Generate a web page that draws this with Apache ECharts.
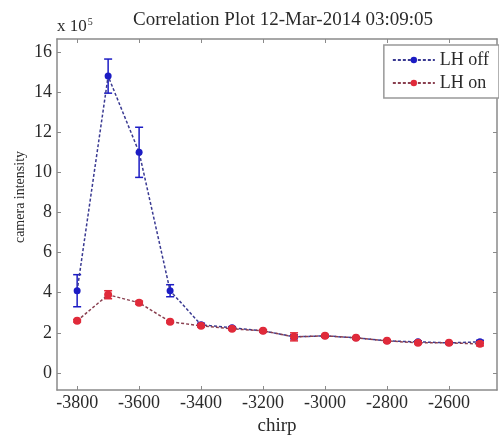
<!DOCTYPE html>
<html>
<head>
<meta charset="utf-8">
<script src="https://cdn.jsdelivr.net/npm/echarts@6/dist/echarts.min.js"></script>
<style>
  html, body { margin: 0; padding: 0; background: #fff; }
  #main { width: 499px; height: 435px; }
</style>
</head>
<body>
<div id="main"></div>
<script>
  // chirp values (x)
  let chirp = [-3800, -3700, -3600, -3500, -3400, -3300, -3200, -3100, -3000, -2900, -2800, -2700, -2600, -2500];
  // camera intensity, in units of 1e5
  let lhOff = [4.1, 14.8, 11.0, 4.1, 2.4, 2.25, 2.1, 1.8, 1.85, 1.75, 1.6, 1.55, 1.5, 1.55];
  let lhOffErr = [0.8, 0.85, 1.25, 0.3, 0.08, 0.06, 0.05, 0.1, 0.06, 0.05, 0.05, 0.05, 0.05, 0.08];
  let lhOn = [2.6, 3.9, 3.5, 2.55, 2.35, 2.2, 2.1, 1.8, 1.85, 1.75, 1.6, 1.5, 1.5, 1.45];
  let lhOnErr = [0.06, 0.2, 0.08, 0.05, 0.06, 0.05, 0.05, 0.2, 0.06, 0.05, 0.05, 0.05, 0.05, 0.1];
  let xTicks = [-3800, -3600, -3400, -3200, -3000, -2800, -2600];
  let yTicks = [0, 2, 4, 6, 8, 10, 12, 14, 16];

  let blue = '#1c1cc4';
  let red = '#e02a3a';
  let axisGray = '#8a8a8a';
  let textCol = '#2a2a2a';
  let font = '"Liberation Serif", "DejaVu Serif", serif';

  let chart = echarts.init(document.getElementById('main'));

  function errData(vals, errs) {
    return chirp.map((c, i) => [c, vals[i] - errs[i], vals[i] + errs[i]]);
  }

  function errRender(color) {
    return function (params, api) {
      let lo = api.coord([api.value(0), api.value(1)]);
      let hi = api.coord([api.value(0), api.value(2)]);
      let w = 4;
      let style = { stroke: color, lineWidth: 1.5 };
      return {
        type: 'group',
        children: [
          { type: 'line', shape: { x1: lo[0], y1: lo[1], x2: hi[0], y2: hi[1] }, style: style },
          { type: 'line', shape: { x1: lo[0] - w, y1: lo[1], x2: lo[0] + w, y2: lo[1] }, style: style },
          { type: 'line', shape: { x1: hi[0] - w, y1: hi[1], x2: hi[0] + w, y2: hi[1] }, style: style }
        ]
      };
    };
  }

  let axisCommon = {
    axisLine: { show: true, onZero: false, lineStyle: { color: axisGray, width: 1.5 } },
    splitLine: { show: false }
  };
  let tickStyle = { show: true, inside: true, length: 4, lineStyle: { color: axisGray } };
  let plain = v => String(v);

  let option = {
    animation: false,
    backgroundColor: '#fff',
    title: {
      text: 'Correlation Plot 12-Mar-2014 03:09:05',
      left: 278, top: 6, textAlign: 'center',
      textStyle: { fontFamily: font, fontSize: 19, fontWeight: 'normal', color: textCol }
    },
    graphic: [{
      type: 'text', left: 57, top: 17,
      style: {
        text: '{a|x 10}{s|5}',
        rich: {
          a: { fontFamily: font, fontSize: 17, fill: textCol },
          s: { fontFamily: font, fontSize: 10, fill: textCol, verticalAlign: 'top', padding: [0, 0, 10, 1] }
        }
      }
    }, {
      type: 'text', x: 20, y: 197, rotation: Math.PI / 2,
      style: {
        text: 'camera intensity', fontFamily: font, fontSize: 14, fill: textCol,
        align: 'center', verticalAlign: 'middle'
      }
    }],
    legend: {
      orient: 'vertical',
      right: 0, top: 45,
      data: ['LH off', 'LH on'],
      backgroundColor: '#fff',
      borderColor: '#999', borderWidth: 1.5,
      padding: [6, 10, 6, 8],
      itemGap: 5, itemWidth: 42, itemHeight: 8,
      textStyle: { fontFamily: font, fontSize: 18, color: textCol }
    },
    grid: { left: 57, right: 2, top: 39, bottom: 45, containLabel: false, outerBoundsMode: 'none' },
    xAxis: [Object.assign({
      type: 'value', min: -3865, max: -2445,
      name: 'chirp', nameLocation: 'middle', nameGap: 15,
      nameTextStyle: { fontFamily: font, fontSize: 19, color: textCol },
      axisLabel: { customValues: xTicks, formatter: plain, fontFamily: font, fontSize: 18, color: textCol, margin: 4 },
      axisTick: Object.assign({ customValues: xTicks }, tickStyle)
    }, axisCommon), Object.assign({
      type: 'value', min: -3865, max: -2445, position: 'top',
      axisLabel: { show: false },
      axisTick: Object.assign({ customValues: xTicks }, tickStyle)
    }, axisCommon)],
    yAxis: [Object.assign({
      type: 'value', min: -0.85, max: 16.65,
      axisLabel: { customValues: yTicks, formatter: plain, fontFamily: font, fontSize: 18, color: textCol, margin: 5 },
      axisTick: Object.assign({ customValues: yTicks }, tickStyle)
    }, axisCommon), Object.assign({
      type: 'value', min: -0.85, max: 16.65, position: 'right',
      axisLabel: { show: false },
      axisTick: Object.assign({ customValues: yTicks }, tickStyle)
    }, axisCommon)],
    series: [
      {
        name: 'LH off', type: 'line',
        data: chirp.map((c, i) => [c, lhOff[i]]),
        symbol: 'circle', symbolSize: 7,
        itemStyle: { color: blue },
        lineStyle: { color: '#3a3a92', width: 1.5, type: [3, 2] },
        z: 3
      },
      {
        name: 'LH off err', type: 'custom',
        data: errData(lhOff, lhOffErr),
        renderItem: errRender(blue),
        encode: { x: 0, y: [1, 2] },
        z: 3
      },
      {
        name: 'LH on', type: 'line',
        data: chirp.map((c, i) => [c, lhOn[i]]),
        symbol: 'circle', symbolSize: 8,
        itemStyle: { color: red },
        lineStyle: { color: '#8a4050', width: 1.5, type: [3, 2] },
        z: 4
      },
      {
        name: 'LH on err', type: 'custom',
        data: errData(lhOn, lhOnErr),
        renderItem: errRender(red),
        encode: { x: 0, y: [1, 2] },
        z: 4
      }
    ]
  };
  chart.setOption(option);
</script>
</body>
</html>
